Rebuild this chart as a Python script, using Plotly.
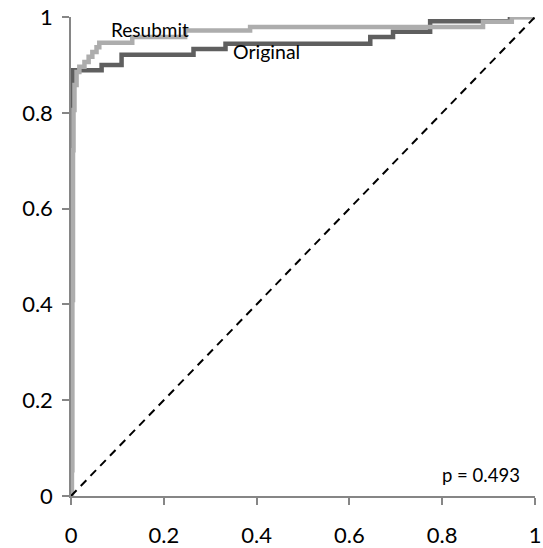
import plotly.graph_objects as go

# ROC curve data (false positive rate, true positive rate)
orig_fpr = [0.0, 0.001, 0.002, 0.004, 0.066, 0.109, 0.264, 0.333, 0.645, 0.694, 0.774, 0.946, 1.0]
orig_tpr = [0.0, 0.409, 0.860, 0.889, 0.900, 0.921, 0.933, 0.944, 0.958, 0.969, 0.991, 1.0, 1.0]

resub_fpr = [0.0, 0.002, 0.003, 0.0043, 0.0054, 0.0075, 0.012, 0.018, 0.029, 0.038, 0.046,
             0.055, 0.061, 0.132, 0.246, 0.386, 0.888, 0.950, 1.0]
resub_tpr = [0.0, 0.054, 0.409, 0.722, 0.806, 0.858, 0.885, 0.896, 0.906, 0.917, 0.927,
             0.937, 0.946, 0.958, 0.972, 0.979, 0.990, 1.0, 1.0]

diag = [0.0, 1.0]
tick_vals = [0, 0.2, 0.4, 0.6, 0.8, 1]
tick_text = ["0", "0.2", "0.4", "0.6", "0.8", "1"]

labels = ["Resubmit", "Original", "p = 0.493"]
label_x = [0.171, 0.421, 0.884]
label_y = [0.973, 0.927, 0.044]
label_size = [19, 19.5, 18.5]

FONT = "Lato, Carlito, 'Open Sans', sans-serif"
AXIS = "#868686"

fig = go.Figure()
fig.add_trace(go.Scatter(x=orig_fpr, y=orig_tpr, mode="lines", line_shape="hv",
                         line=dict(color="#5f5f5f", width=4.5), name="Original",
                         cliponaxis=False))
fig.add_trace(go.Scatter(x=resub_fpr, y=resub_tpr, mode="lines", line_shape="hv",
                         line=dict(color="#adadad", width=4.5), name="Resubmit",
                         cliponaxis=False))
fig.add_trace(go.Scatter(x=diag, y=diag, mode="lines",
                         line=dict(color="black", width=2, dash="8px,6px"),
                         name="Chance", cliponaxis=False))

for t, x, y, s in zip(labels, label_x, label_y, label_size):
    fig.add_annotation(x=x, y=y, text=t, showarrow=False, xanchor="center", yanchor="middle",
                       font=dict(family=FONT, size=s, color="black"))

axis_common = dict(
    range=[0, 1], showgrid=False, zeroline=False, showline=True, linecolor=AXIS, linewidth=1.5,
    ticks="outside", ticklen=7, tickwidth=1.5, tickcolor=AXIS,
    tickvals=tick_vals, ticktext=tick_text, automargin=False,
    ticklabeloverflow="allow",
    tickfont=dict(family=FONT, size=22, color="black"),
)
fig.update_xaxes(**axis_common, ticklabelstandoff=12)
fig.update_yaxes(**axis_common, ticklabelstandoff=5)

fig.update_layout(
    width=543, height=548,
    margin=dict(l=70.5, r=8, t=17, b=52, autoexpand=False),
    paper_bgcolor="white", plot_bgcolor="white",
    showlegend=False,
)

fig.write_html(
    "out.html",
    config={"displayModeBar": False},
    post_script="document.body.style.margin='0';document.body.style.overflow='hidden';",
)
